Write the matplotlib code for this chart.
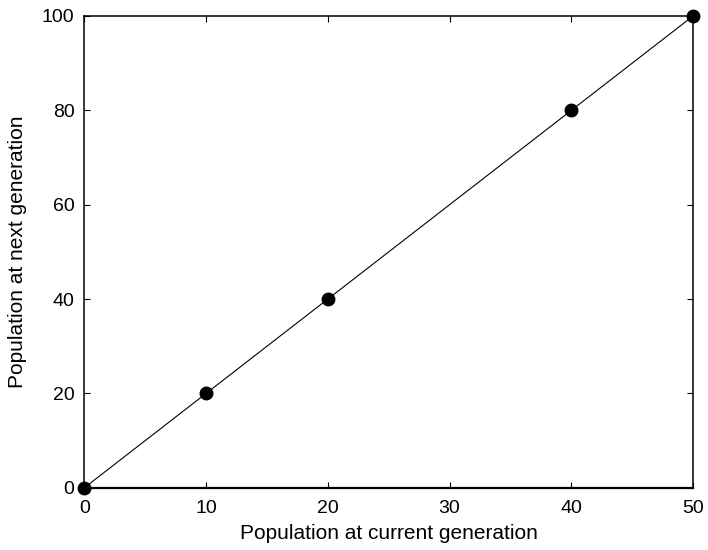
import matplotlib
matplotlib.use("Agg")
from matplotlib import pyplot as plt

# population at current and next generation
current_pop = [0, 10, 20, 40, 50]
next_pop = [0, 20, 40, 80, 100]

plt.rcParams['font.family'] = ['Liberation Sans', 'DejaVu Sans']
plt.rcParams['font.size'] = 15

fig = plt.figure(figsize=(7.08, 5.5), dpi=100)
ax = fig.add_axes([0.119, 0.113, 0.860, 0.858])

ax.plot(current_pop, next_pop, "-", color="black", linewidth=0.8)
ax.plot(current_pop, next_pop, "o", color="black", markersize=9)

ax.set_xlim(0, 50)
ax.set_ylim(0, 100)
ax.set_xticks([0, 10, 20, 30, 40, 50])
ax.set_yticks([0, 20, 40, 60, 80, 100])
ax.tick_params(direction="in", top=True, right=True, length=4, width=0.8,
               labelsize=14)
ax.tick_params(axis="x", pad=9)
ax.tick_params(axis="y", pad=7)
for s in ax.spines.values():
    s.set_linewidth(1.1)
ax.spines["bottom"].set_linewidth(1.6)

ax.set_xlabel("Population at current generation", labelpad=5)
ax.set_ylabel("Population at next generation", labelpad=11)

for p in ax.lines:
    p.set_clip_on(False)

fig.savefig("out.png", dpi=100)
